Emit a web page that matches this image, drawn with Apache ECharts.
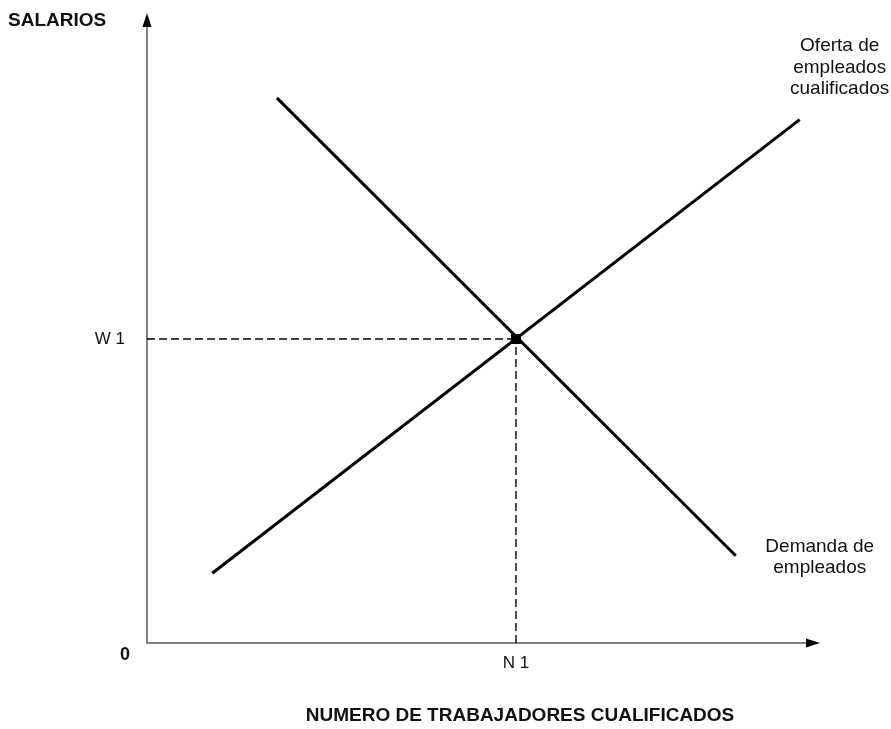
<!DOCTYPE html>
<html>
<head>
<meta charset="utf-8">
<script src="https://cdn.jsdelivr.net/npm/echarts@6/dist/echarts.min.js"></script>
<style>html,body{margin:0;padding:0;background:#fff}#c{width:891px;height:729px}</style>
</head>
<body>
<div id="c"></div>
<script>
// Data (arbitrary units: 0-100 on each axis)
const supplyX = [9.8, 98.0];
const supplyY = [11.2, 84.0];
const demandX = [19.5, 88.4];
const demandY = [87.5, 14.0];
const equilibrium = [55.4, 48.8];
const wLabel = 'W 1';
const nLabel = 'N 1';
const supplyName = 'Oferta de\nempleados\ncualificados';
const demandName = 'Demanda de\nempleados';
const yTitle = 'SALARIOS';
const xTitle = 'NUMERO DE TRABAJADORES CUALIFICADOS';
const originLabel = '0';

const font = '"Liberation Sans", Arial, sans-serif';
const chart = echarts.init(document.getElementById('c'), null, {renderer: 'canvas'});

const zip = (xs, ys) => xs.map((x, i) => [x, ys[i]]);

chart.setOption({
  animation: false,
  backgroundColor: '#fff',
  grid: {left: 147, right: 78, top: 20, bottom: 86, containLabel: false},
  xAxis: {
    type: 'value', min: 0, max: 100,
    axisLine: {show: true, onZero: false, lineStyle: {color: '#808080', width: 2}},
    axisTick: {show: false}, axisLabel: {show: false}, splitLine: {show: false}
  },
  yAxis: {
    type: 'value', min: 0, max: 100,
    axisLine: {show: true, onZero: false, lineStyle: {color: '#808080', width: 2}},
    axisTick: {show: false}, axisLabel: {show: false}, splitLine: {show: false}
  },
  series: [
    {
      type: 'line', name: 'guideW', data: [[0, equilibrium[1]], equilibrium],
      symbol: 'none', lineStyle: {color: '#000', width: 1.4, type: [8, 4]}, z: 1
    },
    {
      type: 'line', name: 'guideN', data: [[equilibrium[0], 0], equilibrium],
      symbol: 'none', lineStyle: {color: '#000', width: 1.4, type: [8, 4]}, z: 1
    },
    {
      type: 'line', name: 'Oferta', data: zip(supplyX, supplyY),
      symbol: 'none', lineStyle: {color: '#000', width: 3}, z: 3
    },
    {
      type: 'line', name: 'Demanda', data: zip(demandX, demandY),
      symbol: 'none', lineStyle: {color: '#000', width: 3}, z: 3
    },
    {
      type: 'scatter', name: 'eq', data: [equilibrium],
      symbol: 'rect', symbolSize: 10, itemStyle: {color: '#000', opacity: 1}, z: 4
    },
    {
      type: 'scatter', name: 'arrows', clip: false, z: 5,
      data: [
        {value: [100, 0], symbolRotate: -90},
        {value: [0, 100], symbolRotate: 0}
      ],
      symbol: 'triangle', symbolSize: [9, 14], itemStyle: {color: '#000', opacity: 1}
    },
    {
      type: 'scatter', name: 'tickLabels', clip: false, z: 5,
      symbolSize: 0,
      itemStyle: {opacity: 1},
      data: [
        {value: [0, equilibrium[1]], label: {show: true, formatter: wLabel, position: 'left', distance: 22, fontSize: 17, color: '#111', fontFamily: font}},
        {value: [equilibrium[0], 0], label: {show: true, formatter: nLabel, position: 'bottom', distance: 12, fontSize: 17, color: '#111', fontFamily: font}},
        {value: [0, 0], label: {show: true, formatter: originLabel, position: 'bottom', offset: [-22, -2], fontSize: 18, fontWeight: 'bold', color: '#111', fontFamily: font}},
        {value: [supplyX[1], supplyY[1]], label: {show: true, formatter: supplyName, position: 'top', offset: [40, -15], align: 'center', lineHeight: 21.5, fontSize: 19, color: '#111', fontFamily: font}},
        {value: [demandX[1], demandY[1]], label: {show: true, formatter: demandName, position: 'top', offset: [84, 28], align: 'center', lineHeight: 21.5, fontSize: 19, color: '#111', fontFamily: font}}
      ]
    }
  ],
  graphic: [
    {type: 'text', x: 8, y: 21, style: {text: yTitle, font: 'bold 19px ' + font, fill: '#111', verticalAlign: 'middle'}},
    {type: 'text', x: 520, y: 716, style: {text: xTitle, font: 'bold 19px ' + font, fill: '#111', align: 'center', verticalAlign: 'middle'}}
  ]
});
</script>
</body>
</html>
